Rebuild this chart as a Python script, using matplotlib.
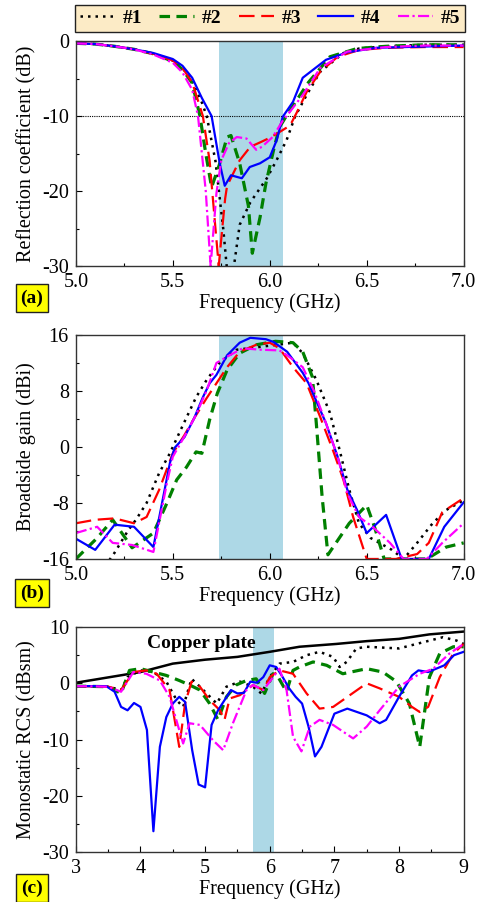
import numpy as np
import matplotlib
matplotlib.use("Agg")
import matplotlib.pyplot as plt
from matplotlib.ticker import MultipleLocator, FormatStrFormatter

plt.rcParams['font.family'] = ['Liberation Serif', 'DejaVu Serif']
plt.rcParams['font.size'] = 14.5
plt.rcParams['axes.unicode_minus'] = False

labels = ['#1', '#2', '#3', '#4', '#5']
colors = ['black', '#008000', '#ff0000', '#0000ff', '#ff00ff']
styles = [(0, (1, 2)), (0, (3.3, 2)), (0, (7, 3)), '-', (0, (5, 1.5, 1, 1.5))]
widths = [1.8, 2.3, 1.6, 1.6, 1.6]

band = (5.74, 6.07)

# (a) reflection coefficient, dB
s11_f = [
    [5.0, 5.1, 5.2, 5.3, 5.4, 5.5, 5.55, 5.6, 5.65, 5.675, 5.72, 5.76, 5.785, 5.81, 5.845,
     5.9, 5.985, 6.035, 6.087, 6.13, 6.19, 6.26, 6.38, 6.46, 6.6, 6.8, 7.0],
    [5.0, 5.1, 5.2, 5.3, 5.4, 5.5, 5.55, 5.6, 5.64, 5.67, 5.70, 5.74, 5.78, 5.80, 5.845,
     5.89, 5.91, 5.95, 5.98, 6.02, 6.05, 6.09, 6.2, 6.31, 6.45, 6.6, 6.8, 7.0],
    [5.0, 5.1, 5.2, 5.3, 5.4, 5.5, 5.55, 5.6, 5.655, 5.69, 5.72, 5.737, 5.755, 5.77, 5.78,
     5.845, 5.9, 5.96, 6.0, 6.04, 6.09, 6.11, 6.14, 6.19, 6.26, 6.35, 6.46, 6.6, 6.8, 7.0],
    [5.0, 5.1, 5.2, 5.3, 5.4, 5.5, 5.55, 5.6, 5.65, 5.70, 5.742, 5.768, 5.80, 5.856, 5.897,
     5.95, 6.0, 6.036, 6.067, 6.12, 6.17, 6.24, 6.29, 6.40, 6.55, 7.0],
    [5.0, 5.1, 5.2, 5.3, 5.4, 5.5, 5.55, 5.6, 5.63, 5.67, 5.695, 5.725, 5.75, 5.79, 5.83,
     5.88, 5.93, 5.96, 6.015, 6.07, 6.09, 6.17, 6.26, 6.4, 6.6, 6.8, 7.0],
]
s11_v = [
    [-0.3, -0.4, -0.7, -1.1, -1.7, -2.6, -3.6, -5.3, -8.2, -10.0, -16, -25, -32, -31, -24.5,
     -21.5, -18.3, -15.9, -13.2, -10.1, -7.2, -4.1, -1.6, -1.0, -0.7, -0.5, -0.5],
    [-0.3, -0.4, -0.7, -1.1, -1.7, -2.7, -3.8, -5.6, -10, -15, -19.5, -16.5, -12.8, -12.6, -16.3,
     -22, -28.3, -23.5, -19, -14.5, -11.5, -9.8, -5.5, -2.1, -1.0, -0.7, -0.5, -0.5],
    [-0.3, -0.4, -0.7, -1.1, -1.7, -2.6, -3.6, -5.5, -10, -16, -25, -30, -25, -21, -19.3,
     -15.9, -14.1, -13.4, -12.9, -12.3, -11.5, -11, -9.5, -6.8, -4.1, -2.1, -1.2, -0.9, -0.8, -0.8],
    [-0.3, -0.4, -0.7, -1.1, -1.6, -2.4, -3.3, -4.9, -7.6, -10, -16.3, -19.3, -17.9, -18.3, -16.8,
     -16.3, -15.5, -13.2, -10.1, -8.1, -4.9, -3.5, -2.5, -1.5, -0.9, -0.6],
    [-0.3, -0.4, -0.7, -1.1, -1.8, -2.9, -4.2, -6.5, -10, -20, -30, -20.3, -15.9, -13.6, -12.8,
     -13, -14.5, -14.1, -12.8, -10.5, -9.9, -7.2, -3.6, -1.4, -0.8, -0.6, -0.6],
]

# (b) broadside gain, dBi
gain_f = [
    [5.0, 5.1, 5.2, 5.27, 5.31, 5.365, 5.43, 5.485, 5.54, 5.62, 5.675, 5.74, 5.83, 5.95, 6.12,
     6.17, 6.24, 6.31, 6.36, 6.41, 6.46, 6.52, 6.63, 6.69, 6.76, 6.84, 6.91, 7.0],
    [5.0, 5.11, 5.19, 5.29, 5.4, 5.47, 5.52, 5.57, 5.62, 5.65, 5.69, 5.73, 5.78, 5.845, 5.93,
     6.03, 6.12, 6.17, 6.22, 6.24, 6.27, 6.3, 6.41, 6.5, 6.54, 6.59, 6.81, 6.91, 7.0],
    [5.0, 5.1, 5.2, 5.3, 5.365, 5.43, 5.5, 5.56, 5.61, 5.675, 5.725, 5.78, 5.845, 5.93, 6.0,
     6.05, 6.12, 6.19, 6.26, 6.325, 6.38, 6.43, 6.5, 6.65, 6.76, 6.82, 6.89, 7.0],
    [5.0, 5.1, 5.2, 5.3, 5.4, 5.485, 5.51, 5.56, 5.61, 5.655, 5.69, 5.725, 5.78, 5.845, 5.9,
     5.98, 6.02, 6.09, 6.17, 6.2, 6.29, 6.35, 6.4, 6.45, 6.5, 6.6, 6.68, 6.82, 6.9, 7.0],
    [5.0, 5.11, 5.19, 5.29, 5.4, 5.47, 5.5, 5.57, 5.62, 5.675, 5.725, 5.78, 5.86, 5.95, 6.05,
     6.09, 6.17, 6.23, 6.29, 6.35, 6.4, 6.46, 6.53, 6.62, 6.69, 6.81, 6.89, 7.0],
]
gain_v = [
    [-20, -19, -15.1, -11.9, -10.4, -8, -3.7, -0.9, 2.4, 7.1, 9.6, 12, 13.9, 14.3, 14.9,
     13.4, 9.6, 4.9, -0.4, -6.1, -10.9, -13, -14.7, -16, -13.7, -10.9, -9, -7.6],
    [-16, -13, -10.4, -14.4, -12.3, -8, -4.7, -2.9, -0.7, -0.9, 3.9, 7.7, 11, 13.4, 14.6,
     15.1, 14.9, 13.6, 10, 3.4, -7.1, -15.4, -10.9, -8.3, -11.4, -16, -16, -14.3, -13.7],
    [-10.9, -10.4, -10.2, -10.9, -10, -6.1, -0.9, 1.7, 4.1, 7, 9.1, 11.4, 13.6, 14.6, 14.9,
     14.1, 11.4, 9.1, 4.3, -0.4, -4.7, -10, -16, -16, -15.3, -13.7, -9.3, -7.3],
    [-13.1, -14.7, -11.1, -11.4, -14.3, -2.3, -0.1, 1.4, 4.1, 7.1, 9.1, 10.3, 13.1, 14.9, 15.6,
     15.4, 15, 13.6, 10.6, 9.1, 3.4, -1.4, -6.1, -9, -12.3, -9.7, -16, -16, -11.4, -7.9],
    [-12.3, -11.4, -13.7, -14, -15, -5.1, -1.4, 2, 4.6, 8.1, 12, 12.9, 14.1, 13.9, 13.8,
     13.1, 11.4, 7.9, 3.4, -1.4, -6.6, -10, -11.4, -13.7, -16, -16, -13.7, -10.9],
]

# (c) monostatic RCS, dBsm
rcs_f = [
    [3.0, 3.5, 3.7, 3.8, 4.0, 4.2, 4.4, 4.56, 4.66, 4.79, 4.92, 5.18, 5.33, 5.54, 5.74,
     5.87, 6.0, 6.15, 6.36, 6.57, 6.77, 6.98, 7.08, 7.19, 7.34, 7.5, 8.0, 8.27, 8.68, 8.89, 9.0],
    [3.0, 3.5, 3.7, 3.83, 4.0, 4.2, 4.4, 4.6, 4.76, 4.92, 5.07, 5.2, 5.33, 5.48, 5.64,
     5.79, 5.92, 6.05, 6.13, 6.26, 6.36, 6.46, 6.67, 6.88, 7.13, 7.5, 7.75, 7.96, 8.16, 8.32,
     8.47, 8.63, 8.84, 9.0],
    [3.0, 3.5, 3.7, 3.89, 4.09, 4.25, 4.45, 4.6, 4.69, 4.79, 4.92, 5.07, 5.23, 5.3, 5.38,
     5.54, 5.74, 5.9, 6.0, 6.15, 6.36, 6.57, 6.77, 6.98, 7.24, 7.5, 7.7, 8.0, 8.2, 8.32,
     8.45, 8.63, 8.84, 9.0],
    [3.0, 3.47, 3.6, 3.7, 3.8, 3.9, 4.0, 4.1, 4.2, 4.3, 4.4, 4.5, 4.6, 4.69, 4.8,
     4.9, 5.0, 5.1, 5.2, 5.4, 5.5, 5.6, 5.7, 5.8, 5.9, 6.0, 6.1, 6.2, 6.3, 6.4,
     6.5, 6.6, 6.7, 6.8, 7.0, 7.2, 7.5, 7.7, 7.8, 8.0, 8.2, 8.3, 8.45, 8.7, 8.85, 9.0],
    [3.0, 3.5, 3.7, 3.89, 4.09, 4.3, 4.45, 4.66, 4.76, 4.92, 5.12, 5.28, 5.43, 5.64, 5.74,
     5.9, 6.0, 6.15, 6.26, 6.36, 6.49, 6.62, 6.77, 6.98, 7.29, 7.5, 7.7, 8.0, 8.32, 8.53,
     8.78, 9.0],
]
rcs_v = [
    [-0.5, -0.6, -1.2, 1.1, 2.3, 2.0, 0.3, -3.0, -4.2, 0.8, -0.6, -3.6, -0.6, 0.3, -0.6,
     -1.8, 1.1, 3.5, 3.8, 5.0, 5.6, 4.7, 2.9, 3.8, 6.2, 6.5, 6.2, 7.0, 8.2, 7.6, 7.0],
    [-0.5, -0.6, -1.8, 2.3, 2.6, 2.0, 1.4, 0.5, -0.3, -1.2, -3.6, -6.5, -2.4, -0.3, 0.5,
     0.8, -1.8, 1.7, 1.1, -1.5, 2.3, 2.9, 3.8, 3.2, 1.7, 2.6, 2.0, 0.3, -3.6, -11.3,
     1.1, 5.3, 6.5, 6.5],
    [-0.5, -0.6, -1.2, 2.0, 2.3, 1.7, -1.2, -11.3, -3.6, 0.3, -0.6, -3.0, -4.8, -6.5, -2.7,
     -2.1, -0.3, -1.2, 1.1, 2.3, 1.7, -1.8, -4.5, -4.2, -2.1, 0.0, -0.9, -2.4, -4.2, -5.1,
     -4.2, 1.1, 5.3, 7.0],
    [-0.5, -0.5, -1.5, -4.2, -4.8, -3.5, -4.2, -8.3, -26.3, -11.3, -6.0, -3.6, -2.4, -3.3, -11.9,
     -18.0, -18.5, -7.4, -4.8, -1.2, -1.8, -1.7, 0.3, 0.1, 1.1, 3.2, 2.9, 1.1, -0.9, -2.4,
     -3.6, -7.7, -13.0, -11.3, -5.4, -4.5, -5.7, -7.1, -6.5, -2.4, 1.4, 2.3, 2.0, 3.2, 5.0, 5.6],
    [-0.5, -0.6, -1.5, 2.0, 1.7, 0.5, -2.4, -10.7, -7.1, -7.4, -10.1, -11.9, -7.1, -1.2, -0.3,
     -1.2, 0.3, 2.6, -1.2, -9.5, -12.1, -7.7, -6.5, -7.4, -9.8, -7.7, -4.8, -0.6, 1.7, 2.6,
     5.3, 7.0],
]
copper_f = [3.0, 4.0, 4.5, 5.0, 5.5, 6.0, 6.46, 7.03, 7.5, 8.0, 8.47, 9.0]
copper_v = [0.1, 2.0, 3.5, 4.2, 4.7, 5.6, 6.5, 7.0, 7.5, 7.9, 8.7, 9.2]

fig = plt.figure(figsize=(4.83, 9.02), dpi=100)
ax1 = fig.add_axes([0.157, 0.7051, 0.803, 0.2494])
ax2 = fig.add_axes([0.157, 0.3803, 0.803, 0.2483])
ax3 = fig.add_axes([0.157, 0.0554, 0.803, 0.2494])


def style(ax, xmaj, xmin, ymaj, ymin):
    ax.xaxis.set_major_locator(MultipleLocator(xmaj))
    ax.xaxis.set_minor_locator(MultipleLocator(xmin))
    ax.yaxis.set_major_locator(MultipleLocator(ymaj))
    ax.yaxis.set_minor_locator(MultipleLocator(ymin))
    ax.tick_params(which='both', direction='in', top=False, right=False)
    ax.tick_params(which='major', length=4, width=0.8, pad=5)
    ax.tick_params(which='minor', length=2.5, width=0.8)
    for sp in ax.spines.values():
        sp.set_color('#333333')
        sp.set_linewidth(1.0)
    ax.set_xlabel('Frequency (GHz)', labelpad=1)


# panel a
ax1.axvspan(*band, color='#add8e6', lw=0, zorder=0)
ax1.axhline(-10, color='black', lw=0.8, ls=(0, (1, 1)), zorder=1)
for i in range(5):
    ax1.plot(s11_f[i], s11_v[i], color=colors[i], ls=styles[i], lw=widths[i], label=labels[i])
ax1.set_xlim(5.0, 7.0)
ax1.set_ylim(-30, 0)
style(ax1, 0.5, 0.25, 10, 5)
ax1.xaxis.set_major_formatter(FormatStrFormatter('%.1f'))
ax1.set_ylabel('Reflection coefficient (dB)', labelpad=4)

# panel b
ax2.axvspan(*band, color='#add8e6', lw=0, zorder=0)
for i in range(5):
    ax2.plot(gain_f[i], gain_v[i], color=colors[i], ls=styles[i], lw=widths[i])
ax2.set_xlim(5.0, 7.0)
ax2.set_ylim(-16, 16)
style(ax2, 0.5, 0.25, 8, 4)
ax2.xaxis.set_major_formatter(FormatStrFormatter('%.1f'))
ax2.set_ylabel('Broadside gain (dBi)', labelpad=4)

# panel c
ax3.axvspan(*band, color='#add8e6', lw=0, zorder=0)
ax3.plot(copper_f, copper_v, color='black', lw=1.8)
for i in range(5):
    ax3.plot(rcs_f[i], rcs_v[i], color=colors[i], ls=styles[i], lw=widths[i])
ax3.text(4.1, 7.1, 'Copper plate', fontsize=14, fontweight='bold', va='center')
ax3.set_xlim(3, 9)
ax3.set_ylim(-30, 10)
style(ax3, 1, 0.5, 10, 5)
ax3.set_ylabel('Monostatic RCS (dBsm)', labelpad=4)

# panel tags
for tag, y in [('(a)', 298), ('(b)', 593), ('(c)', 888)]:
    fig.text(32 / 483, 1 - y / 902, tag, fontsize=14, fontweight='bold', ha='center', va='center',
             bbox=dict(boxstyle='square,pad=0.25', facecolor='#ffff00', edgecolor='#222222', lw=1))

h, l = ax1.get_legend_handles_labels()
leg = fig.legend(h, l, loc='lower left', ncol=5, mode='expand',
                 bbox_to_anchor=(75 / 483, 1 - 32 / 902, 390 / 483, 27 / 902),
                 borderaxespad=0, prop={'weight': 'bold', 'size': 14},
                 handlelength=1.8, handletextpad=0.4, columnspacing=0.6,
                 fancybox=False, framealpha=1, borderpad=0.25)
leg.get_frame().set_facecolor('#fcebc6')
leg.get_frame().set_edgecolor('#222222')
leg.get_frame().set_linewidth(1.0)

fig.savefig('out.png', dpi=100)
